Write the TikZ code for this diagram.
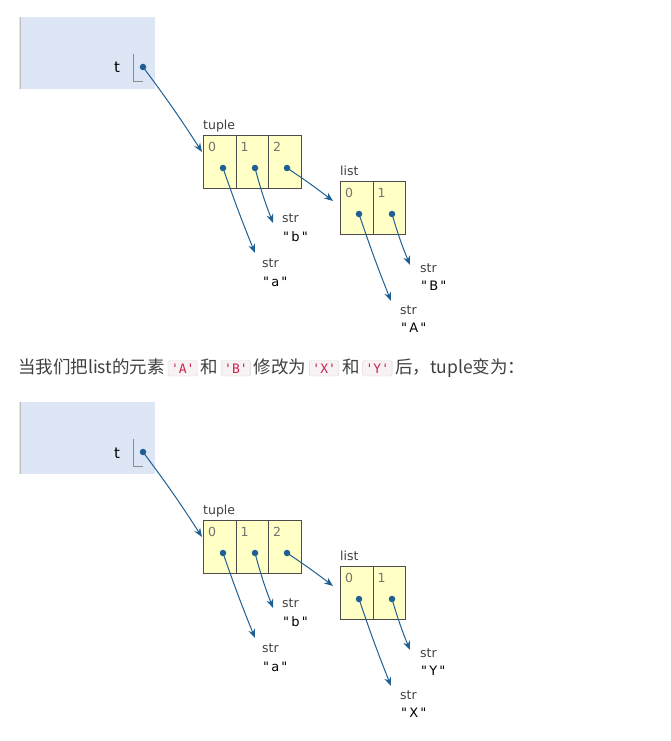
\documentclass[tikz,border=0pt]{standalone}
\usepackage{fontspec}
\setmainfont{DejaVu Sans}
\newfontfamily\cjk{Noto Sans CJK SC}
\newfontfamily\monof{DejaVu Sans Mono}
\usetikzlibrary{arrows.meta}
\definecolor{frameblue}{HTML}{DDE6F5}
\definecolor{cellyellow}{HTML}{FFFFC6}
\definecolor{ptr}{HTML}{1F5F92}
\definecolor{codered}{HTML}{C7254E}
\definecolor{codebg}{HTML}{F9F2F4}
\newcommand{\qq}{\textquotedbl}
\tikzset{
  lbl/.style={font=\fontsize{12.5}{14}\selectfont, text=black!75, inner sep=0pt, anchor=base west},
  idx/.style={font=\fontsize{12.5}{14}\selectfont, text=black!55, inner sep=0pt, anchor=base west},
  sval/.style={font=\fontsize{13}{14}\selectfont, inner sep=0pt, anchor=base west},
  cell/.style={draw=black!70, fill=cellyellow, line width=0.6pt, minimum width=32.5pt, minimum height=53pt, inner sep=0pt},
  ptrarrow/.style={draw=ptr, line width=1pt, -{Stealth[length=9pt,width=7pt,inset=3pt]}},
  dot/.style={circle, fill=ptr, inner sep=0pt, minimum size=6.5pt},
  code/.style={draw=black!15, fill=codebg, rounded corners=2pt, inner sep=3pt, font=\monof\fontsize{13}{14}\selectfont, text=codered},
}
\newcommand{\objdiag}[3]{%
\begin{scope}[yshift=-#1pt]
  \fill[frameblue] (19,-17) rectangle (155,-89);
  \draw[black!25, line width=1pt] (20,-17) -- (20,-89);
  \node[font=\fontsize{15}{16}\selectfont, inner sep=0pt, anchor=base] (t#1) at (117,-73) {t};
  \draw[black!45, line width=0.6pt] (133,-54) -- (133,-81) -- (143,-81);
  \node[dot] (td#1) at (143,-67) {};
  \node[lbl] (tl#1) at (203,-129) {tuple};
  \node[cell, anchor=north west] (c0#1) at (203,-135) {};
  \node[cell, anchor=north west] (c1#1) at (235.5,-135) {};
  \node[cell, anchor=north west] (c2#1) at (268,-135) {};
  \node[idx] at (208,-151) {0};
  \node[idx] at (240.5,-151) {1};
  \node[idx] at (273,-151) {2};
  \node[dot] (d0#1) at (223,-168) {};
  \node[dot] (d1#1) at (255,-168) {};
  \node[dot] (d2#1) at (287,-168) {};
  \node[lbl] (ll#1) at (340,-175) {list};
  \node[cell, anchor=north west] (l0#1) at (340,-181) {};
  \node[cell, anchor=north west] (l1#1) at (372.5,-181) {};
  \node[idx] at (345,-197) {0};
  \node[idx] at (377.5,-197) {1};
  \node[dot] (e0#1) at (359,-214) {};
  \node[dot] (e1#1) at (392,-214) {};
  \node[lbl] (sb#1) at (282,-222) {str};
  \node[sval] (vb#1) at (283,-241) {\qq\,b\,\qq};
  \node[lbl] (sa#1) at (262,-267) {str};
  \node[sval] (va#1) at (263,-286) {\qq\,a\,\qq};
  \node[lbl] (sB#1) at (420,-272) {str};
  \node[sval] (vB#1) at (421,-290) {\qq\,#3\,\qq};
  \node[lbl] (sA#1) at (400,-314) {str};
  \node[sval] (vA#1) at (401,-332) {\qq\,#2\,\qq};
  \coordinate (ta#1) at (202,-152);
  \coordinate (la#1) at (333,-201);
  \coordinate (ba#1) at (273,-223);
  \coordinate (aa#1) at (255,-253);
  \coordinate (Ba#1) at (410,-265);
  \coordinate (Aa#1) at (391,-301);
  \draw[ptrarrow] (td#1.center) to[bend left=2] (ta#1);
  \draw[ptrarrow] (d2#1.center) to[bend left=2] (la#1);
  \draw[ptrarrow] (d1#1.center) to[bend right=3] (ba#1);
  \draw[ptrarrow] (d0#1.center) to[bend right=1.5] (aa#1);
  \draw[ptrarrow] (e1#1.center) to[bend right=3] (Ba#1);
  \draw[ptrarrow] (e0#1.center) to[bend right=1.5] (Aa#1);
\end{scope}}
\begin{document}
\begin{tikzpicture}[x=1pt,y=1pt]
\useasboundingbox (0,0) rectangle (671,-741);
\objdiag{0}{A}{B}
\node[anchor=base west, inner sep=0pt, font=\cjk\fontsize{17.5}{19}\selectfont, text=black!75] (txt) at (18,-373)
 {当我们把list的元素\,\tikz[baseline=(c.base)]\node[code](c){'A'};\,和\,\tikz[baseline=(c.base)]\node[code](c){'B'};\,修改为\,\tikz[baseline=(c.base)]\node[code](c){'X'};\,和\,\tikz[baseline=(c.base)]\node[code](c){'Y'};\,后，tuple变为：};
\objdiag{385}{X}{Y}
\end{tikzpicture}
\end{document}
